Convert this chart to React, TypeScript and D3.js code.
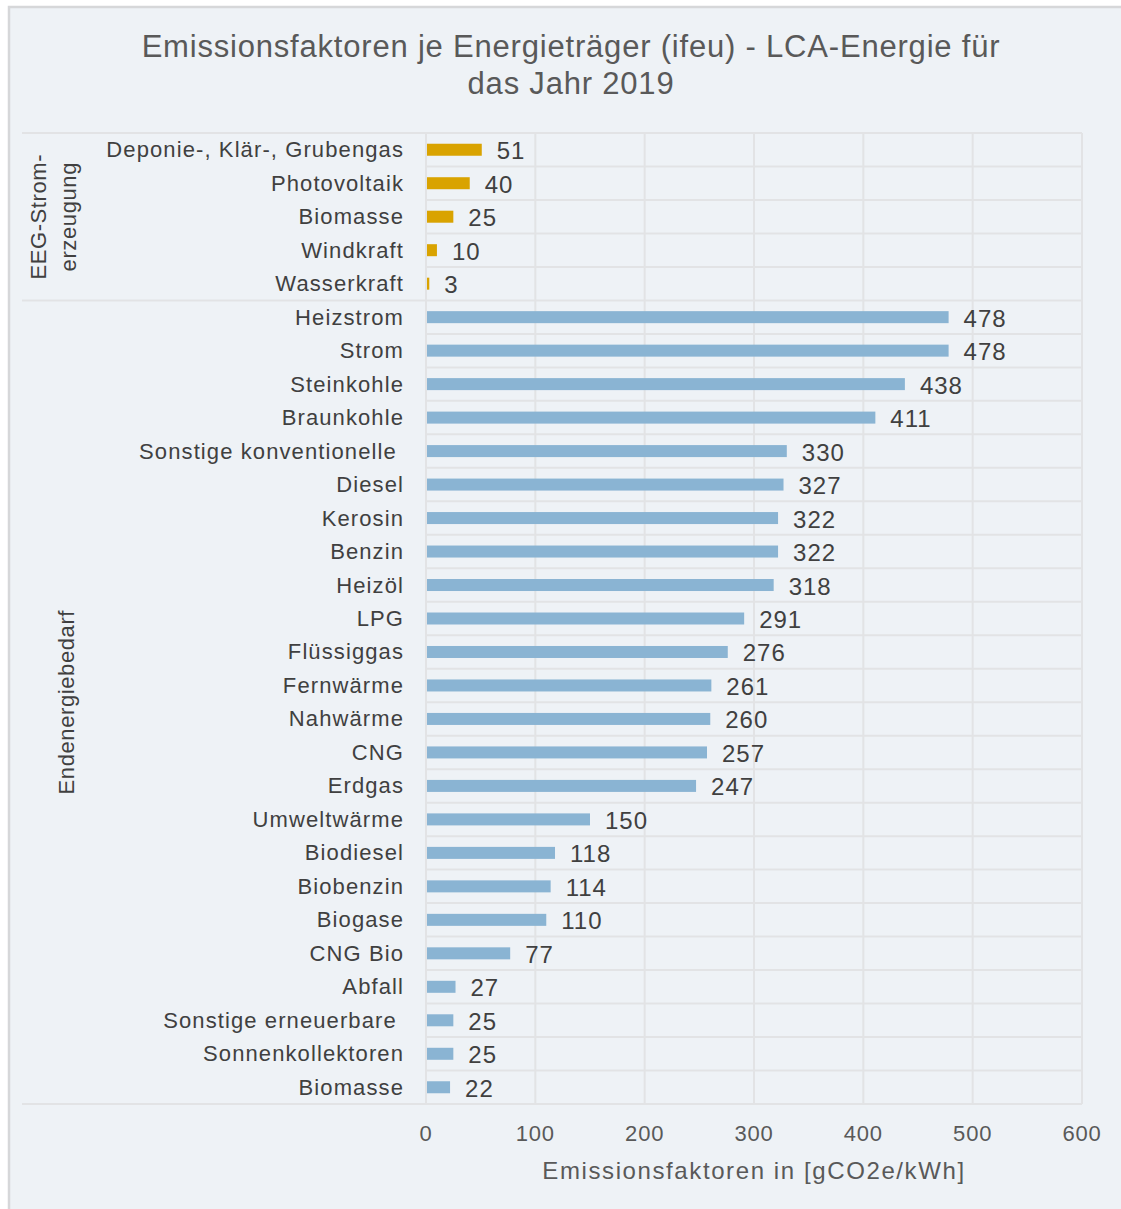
import React from "react";
import * as d3 from "d3";

const titleLines = ["Emissionsfaktoren je Energieträger (ifeu) - LCA-Energie für", "das Jahr 2019"];
const axisTitle = "Emissionsfaktoren in [gCO2e/kWh]";

const eegLabels = ["Deponie-, Klär-, Grubengas", "Photovoltaik", "Biomasse", "Windkraft", "Wasserkraft"];
const eegValues = [51, 40, 25, 10, 3];

const endLabels = [
  "Heizstrom", "Strom", "Steinkohle", "Braunkohle", "Sonstige konventionelle ", "Diesel", "Kerosin",
  "Benzin", "Heizöl", "LPG", "Flüssiggas", "Fernwärme", "Nahwärme", "CNG", "Erdgas", "Umweltwärme",
  "Biodiesel", "Biobenzin", "Biogase", "CNG Bio", "Abfall", "Sonstige erneuerbare ", "Sonnenkollektoren", "Biomasse",
];
const endValues = [478, 478, 438, 411, 330, 327, 322, 322, 318, 291, 276, 261, 260, 257, 247, 150, 118, 114, 110, 77, 27, 25, 25, 22];

const groupNames = [["EEG-Strom-", "erzeugung"], ["Endenergiebedarf"]];
const xTicks = [0, 100, 200, 300, 400, 500, 600];

const W = 1121;
const H = 1209;
const FONT = "'Liberation Sans', Arial, sans-serif";
const GOLD = "#d9a300";
const BLUE = "#8ab4d3";
const GRID = "#e2e3e5";
const TEXT = "#404040";

type Row = { label: string; value: number; group: number; key: string };

const rows: Row[] = [
  ...eegLabels.map((l, i) => ({ label: l, value: eegValues[i], group: 0, key: `g0-${i}` })),
  ...endLabels.map((l, i) => ({ label: l, value: endValues[i], group: 1, key: `g1-${i}` })),
];

export default function App() {
  const plotTop = 133;
  const plotBottom = 1104;
  const x = d3.scaleLinear().domain([0, 600]).range([426, 1082]);
  const y = d3.scaleBand<string>().domain(rows.map((r) => r.key)).range([plotTop, plotBottom]).paddingInner(0).paddingOuter(0);
  const bw = y.bandwidth();
  const barH = 12;
  const groupStart = [plotTop, y(rows[eegLabels.length].key)!];
  const groupEnd = [y(rows[eegLabels.length].key)!, plotBottom];

  return (
    <svg width={W} height={H} style={{ position: "absolute", left: 0, top: 0, fontFamily: FONT }}>
      <rect x={0} y={0} width={W} height={H} fill="#ffffff" />
      <rect x={9} y={7} width={W + 10} height={H + 10} fill="#eef2f6" stroke="#d6d7d9" strokeWidth={2.5} />

      {titleLines.map((t, i) => (
        <text key={i} x={571} y={46 + i * 37} textAnchor="middle" dominantBaseline="central" fontSize={31} fill="#595959" letterSpacing={0.8}>
          {t}
        </text>
      ))}

      {/* vertical grid lines */}
      {xTicks.map((t) => (
        <line key={t} x1={x(t)} x2={x(t)} y1={plotTop} y2={plotBottom} stroke={GRID} strokeWidth={2} />
      ))}
      {/* row separators */}
      {rows.map((r, i) =>
        i === 0 || (r.group === 1 && rows[i - 1].group === 0) ? null : (
          <line key={r.key} x1={x(0)} x2={x(600)} y1={y(r.key)} y2={y(r.key)} stroke={GRID} strokeWidth={2} />
        )
      )}
      {/* group boundaries */}
      {[plotTop, groupEnd[0], plotBottom].map((yy, i) => (
        <line key={i} x1={22} x2={x(600)} y1={yy} y2={yy} stroke={GRID} strokeWidth={2} />
      ))}

      {/* bars */}
      {rows.map((r) => (
        <rect key={r.key} x={x(0) + 1} y={y(r.key)! + bw / 2 - barH / 2} width={Math.max(0, x(r.value) - x(0) - 1)} height={barH} fill={r.group === 0 ? GOLD : BLUE} />
      ))}

      {/* category labels */}
      {rows.map((r) => (
        <text key={r.key} x={404} y={y(r.key)! + bw / 2} textAnchor="end" dominantBaseline="central" fontSize={22} fill={TEXT} letterSpacing={1.1} style={{ whiteSpace: "pre" }}>
          {r.label}
        </text>
      ))}

      {/* value labels */}
      {rows.map((r) => (
        <text key={r.key} x={x(r.value) + 15} y={y(r.key)! + bw / 2 + 1} dominantBaseline="central" fontSize={24} fill={TEXT} letterSpacing={1}>
          {r.value}
        </text>
      ))}

      {/* group labels */}
      {groupNames.map((lines, gi) => {
        const cy = (groupStart[gi] + groupEnd[gi]) / 2;
        return lines.map((l, li) => {
          const cx = gi === 0 ? 38 + li * 30 : 66;
          return (
            <text key={`${gi}-${li}`} transform={`translate(${cx},${cy}) rotate(-90)`} textAnchor="middle" dominantBaseline="central" fontSize={22} fill={TEXT} letterSpacing={0.6}>
              {l}
            </text>
          );
        });
      })}

      {/* x tick labels */}
      {xTicks.map((t) => (
        <text key={t} x={x(t)} y={1133} textAnchor="middle" dominantBaseline="central" fontSize={22} fill="#595959" letterSpacing={0.8}>
          {t}
        </text>
      ))}

      <text x={(x(0) + x(600)) / 2} y={1170} textAnchor="middle" dominantBaseline="central" fontSize={24} fill="#595959" letterSpacing={1.6}>
        {axisTitle}
      </text>
    </svg>
  );
}
